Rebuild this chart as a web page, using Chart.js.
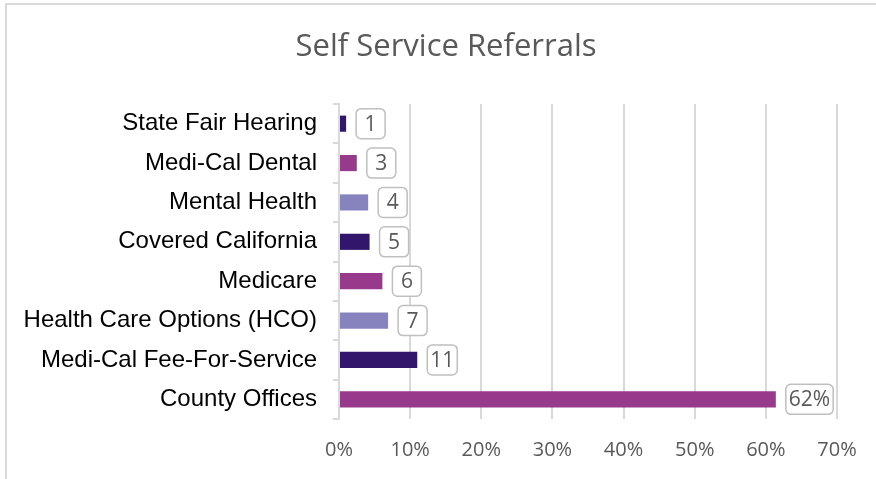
<!DOCTYPE html>
<html>
<head>
<meta charset="utf-8">
<script src="https://cdn.jsdelivr.net/npm/chart.js@4"></script>
<style>
  html, body { margin: 0; padding: 0; background: #fff; }
  #wrap { width: 876px; height: 479px; }
</style>
</head>
<body>
<div id="wrap"><canvas id="referrals-chart" width="876" height="479"></canvas></div>
<script>
// Data (top to bottom)
const categories = [
  'State Fair Hearing',
  'Medi-Cal Dental',
  'Mental Health',
  'Covered California',
  'Medicare',
  'Health Care Options (HCO)',
  'Medi-Cal Fee-For-Service',
  'County Offices'
];
const shares = [1.0, 2.5, 4.1, 4.3, 6.1, 6.9, 11.0, 61.4];
const valueLabels = ['1', '3', '4', '5', '6', '7', '11', '62%'];
const xTicks = [0, 10, 20, 30, 40, 50, 60, 70];
const chartTitle = 'Self Service Referrals';

const DARK = '#32166B', MAGENTA = '#983A8C', LAVENDER = '#8783BE';
const barColors = [DARK, MAGENTA, LAVENDER, DARK, MAGENTA, LAVENDER, DARK, MAGENTA];

// Frame lines and title, like the spreadsheet chart
const framePlugin = {
  id: 'frame',
  beforeDraw(chart) {
    const ctx = chart.ctx;
    ctx.save();
    ctx.fillStyle = '#fff';
    ctx.fillRect(0, 0, chart.width, chart.height);
    ctx.strokeStyle = '#D9D9D9';
    ctx.lineWidth = 2;
    ctx.beginPath();
    ctx.moveTo(6, chart.height);
    ctx.lineTo(6, 4);
    ctx.lineTo(chart.width, 4);
    ctx.stroke();
    // title centred over the whole chart
    ctx.font = '31px "Open Sans"';
    ctx.fillStyle = '#595959';
    ctx.textAlign = 'center';
    ctx.textBaseline = 'middle';
    ctx.fillText(chartTitle, 446, 47);
    ctx.restore();
  }
};

// Boxed value labels next to each bar
const boxLabels = {
  id: 'boxLabels',
  afterDatasetsDraw(chart) {
    const ctx = chart.ctx;
    const meta = chart.getDatasetMeta(0);
    ctx.save();
    ctx.font = '21px "Open Sans"';
    ctx.textBaseline = 'middle';
    ctx.textAlign = 'center';
    meta.data.forEach((bar, i) => {
      const text = valueLabels[i];
      const w = Math.max(ctx.measureText(text).width + 6, 29);
      const h = 30;
      const x = bar.x + 10;
      const y = bar.y - h / 2;
      ctx.beginPath();
      ctx.roundRect(x, y, w, h, 5);
      ctx.fillStyle = '#fff';
      ctx.fill();
      ctx.lineWidth = 1.5;
      ctx.strokeStyle = '#BFBFBF';
      ctx.stroke();
      ctx.fillStyle = '#595959';
      ctx.fillText(text, x + w / 2, bar.y + 1);
    });
    ctx.restore();
  }
};

const ctx = document.getElementById('referrals-chart').getContext('2d');
new Chart(ctx, {
  type: 'bar',
  data: {
    labels: categories,
    datasets: [{
      data: shares,
      backgroundColor: barColors,
      barPercentage: 0.41,
      categoryPercentage: 1
    }]
  },
  options: {
    indexAxis: 'y',
    responsive: false,
    animation: false,
    layout: { padding: { left: 6, right: 39, top: 104, bottom: 0 } },
    plugins: {
      legend: { display: false },
      tooltip: { enabled: false },
      title: { display: false }
    },
    scales: {
      x: {
        min: 0,
        max: 70,
        afterBuildTicks(scale) {
          scale.ticks = xTicks.map(v => ({ value: v }));
        },
        afterFit(scale) { scale.height = 60; },
        grid: { color: '#D9D9D9', lineWidth: 2, drawTicks: false },
        border: { display: false },
        ticks: {
          color: '#595959',
          font: { family: '"Open Sans"', size: 20 },
          padding: 19,
          callback: v => v + '%'
        }
      },
      y: {
        afterFit(scale) { scale.width = 333; },
        grid: { drawOnChartArea: false, drawTicks: true, tickLength: 6, color: '#D9D9D9', lineWidth: 2 },
        border: { color: '#D9D9D9', width: 2 },
        ticks: {
          color: '#000',
          font: { family: '"Liberation Sans", Arial', size: 24 },
          padding: 16
        }
      }
    }
  },
  plugins: [framePlugin, boxLabels]
});
</script>
</body>
</html>
